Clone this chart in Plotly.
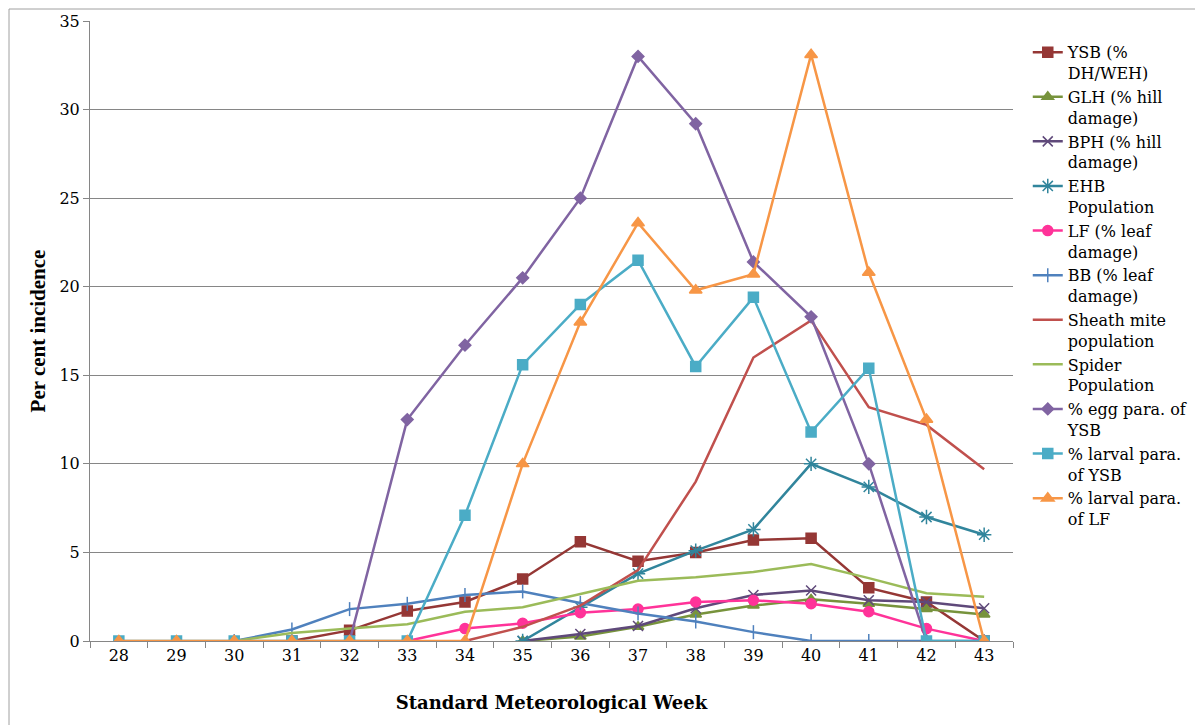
import plotly.graph_objects as go

weeks = ["28", "29", "30", "31", "32", "33", "34", "35", "36", "37", "38", "39", "40", "41", "42", "43"]
N = None
ysb = [N, N, N, 0, 0.6, 1.7, 2.2, 3.5, 5.6, 4.5, 5.0, 5.7, 5.8, 3.0, 2.2, 0]
glh = [N, N, N, N, N, N, N, 0, 0.25, 0.8, 1.5, 2.0, 2.35, 2.1, 1.8, 1.5]
bph = [N, N, N, N, N, N, N, 0, 0.4, 0.85, 1.85, 2.6, 2.85, 2.3, 2.2, 1.85]
ehb = [N, N, N, N, N, N, N, 0, 1.9, 3.8, 5.1, 6.3, 10.0, 8.7, 7.0, 6.0]
lf = [N, N, N, N, N, 0, 0.7, 1.0, 1.6, 1.8, 2.2, 2.3, 2.1, 1.65, 0.7, 0]
bb = [N, N, 0, 0.65, 1.8, 2.1, 2.6, 2.8, 2.15, 1.55, 1.1, 0.5, 0, 0, 0, 0]
sheath = [N, N, N, N, N, N, 0, 0.8, 2.0, 4.0, 9.0, 16.0, 18.1, 13.2, 12.2, 9.7]
spider = [N, N, 0, 0.45, 0.7, 0.95, 1.65, 1.9, 2.65, 3.4, 3.6, 3.9, 4.35, 3.55, 2.7, 2.5]
egg_ysb = [N, N, N, N, 0, 12.5, 16.7, 20.5, 25.0, 33.0, 29.2, 21.4, 18.3, 10.0, 0, N]
larv_ysb = [0, 0, 0, 0, 0, 0, 7.1, 15.6, 19.0, 21.5, 15.5, 19.4, 11.8, 15.4, 0, 0]
larv_lf = [0, 0, 0, 0, 0, 0, 0, 10.0, 18.0, 23.6, 19.8, 20.7, 33.1, 20.8, 12.5, 0]

series = [
    ("YSB (%<br>DH/WEH)", ysb, "#953735", "square", 10),
    ("GLH (% hill<br>damage)", glh, "#77933C", "triangle-up", 10),
    ("BPH (% hill<br>damage)", bph, "#5F497A", "x-thin-open", 10),
    ("EHB<br>Population", ehb, "#31859C", "asterisk-open", 12),
    ("LF (% leaf<br>damage)", lf, "#FF3399", "circle", 10),
    ("BB (% leaf<br>damage)", bb, "#4F81BD", "line-ns-open", 10),
    ("Sheath mite<br>population", sheath, "#C0504D", None, 0),
    ("Spider<br>Population", spider, "#9BBB59", None, 0),
    ("% egg para. of<br>YSB", egg_ysb, "#8064A2", "diamond", 9),
    ("% larval para.<br>of YSB", larv_ysb, "#4BACC6", "square", 10),
    ("% larval para.<br>of LF", larv_lf, "#F79646", "triangle-up", 11),
]

fig = go.Figure()
for name, vals, color, sym, size in series:
    if sym is None:
        fig.add_trace(go.Scatter(x=weeks, y=vals, name=name, mode="lines",
                                 line=dict(color=color, width=2.5)))
    else:
        fig.add_trace(go.Scatter(x=weeks, y=vals, name=name, mode="lines+markers",
                                 line=dict(color=color, width=2.5),
                                 marker=dict(symbol=sym, size=size, color=color,
                                             line=dict(color=color, width=1.5))))

fig.update_layout(
    width=1203, height=725,
    margin=dict(l=82, r=198, t=13, b=92),
    paper_bgcolor="white", plot_bgcolor="white",
    font=dict(family="DejaVu Serif", size=16, color="black"),
    showlegend=True,
    legend=dict(x=1.016, y=0.977, xanchor="left", yanchor="top",
                font=dict(family="DejaVu Serif", size=16, color="black"),
                valign="top", itemwidth=30, bgcolor="rgba(0,0,0,0)"),
    xaxis=dict(type="category", tickson="boundaries", ticks="outside", ticklen=6,
               tickcolor="#868686", showline=True, linecolor="#868686", linewidth=1,
               showgrid=False, range=[-0.5, 15.5], automargin=False,
               tickfont=dict(family="DejaVu Serif", size=16),
               title=dict(text="<b>Standard Meteorological Week</b>",
                          font=dict(family="DejaVu Serif", size=18), standoff=32)),
    yaxis=dict(range=[0, 35], dtick=5, ticks="outside", ticklen=6, tickcolor="#868686",
               showline=True, linecolor="#868686", linewidth=1, automargin=False,
               showgrid=True, gridcolor="#868686", gridwidth=1, zeroline=False,
               tickfont=dict(family="DejaVu Serif", size=16),
               title=dict(text="<b>Per cent incidence</b>",
                          font=dict(family="Liberation Serif", size=21), standoff=8)),
    shapes=[dict(type="rect", xref="paper", yref="paper",
                 x0=-81.0 / 923, x1=1.3, y0=-0.2, y1=1 + 12.0 / 620,
                 line=dict(color="#a0a0a0", width=1), layer="below")],
)

fig.write_html("out.html")
